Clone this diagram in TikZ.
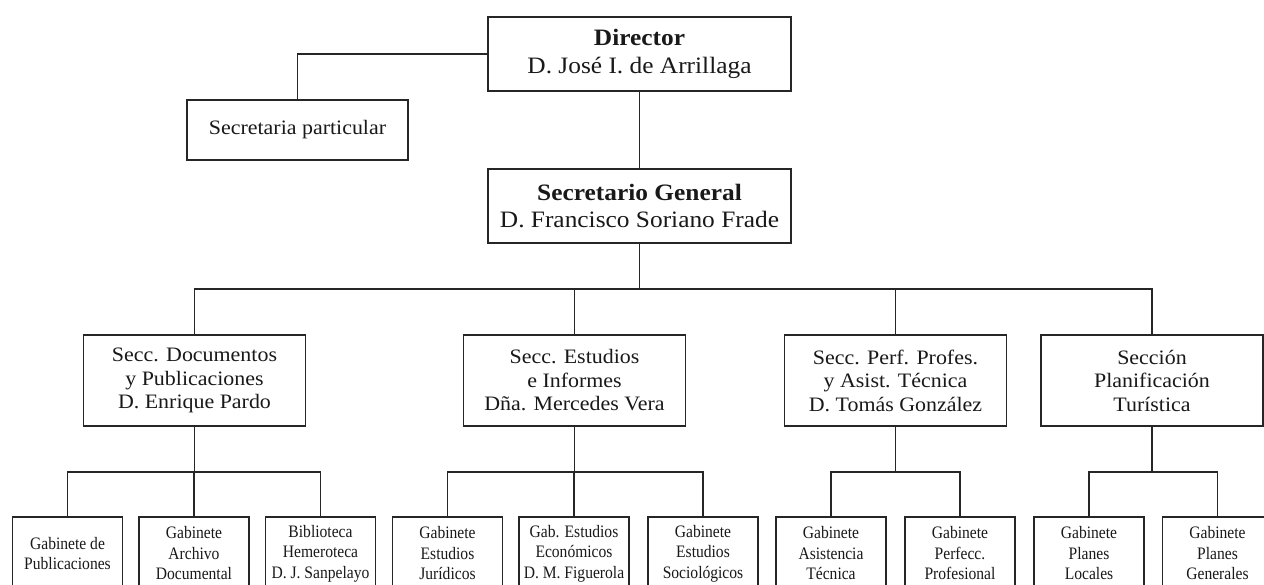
\documentclass[tikz,border=0pt]{standalone}
\usepackage{fontspec}
\newfontfamily\topfont[FakeStretch=1.08]{Liberation Serif}
\newfontfamily\midfont[FakeStretch=1.07]{Liberation Serif}
\newfontfamily\botfont[FakeStretch=0.89]{Liberation Serif}
\begin{document}
\begin{tikzpicture}[x=1pt,y=-1pt,
  line/.style={draw=black!85,line width=1.3pt},
  box/.style={line,rectangle,inner sep=0pt,align=center,text=black!90},
  topbox/.style={box,minimum width=303pt,minimum height=74pt,font=\topfont\fontsize{23.5}{27.5}\selectfont},
  secbox/.style={box,minimum width=221pt,minimum height=60pt,font=\midfont\fontsize{20.5}{23.5}\selectfont},
  midbox/.style={box,minimum width=222pt,minimum height=91pt,font=\midfont\fontsize{20.5}{23.5}\selectfont},
  botbox/.style={box,minimum width=110pt,minimum height=73pt,font=\botfont\fontsize{17.5}{20.5}\selectfont}]
\useasboundingbox (0,0) rectangle (1264,585);
\fill[white] (0,0) rectangle (1264,585);
\clip (0,0) rectangle (1264,585);

% top level
\node[topbox] (dir) at (639.5,54) {\textbf{Director}\\D. José I. de Arrillaga};
\node[secbox] (spart) at (297.5,130) {Secretaria particular};
\node[topbox] (sg) at (639.5,206) {\textbf{Secretario General}\\D. Francisco Soriano Frade};

% sections
\node[midbox] (doc) at (194.5,380.5) {Secc. Documentos\\y Publicaciones\\D. Enrique Pardo};
\node[midbox] (est) at (574.5,380.5) {Secc. Estudios\\e Informes\\Dña. Mercedes Vera};
\node[midbox] (perf) at (895.5,380.5) {Secc. Perf. Profes.\\y Asist. Técnica\\D. Tomás González};
\node[midbox] (plan) at (1152,380.5) {Sección\\Planificación\\Turística};

% cabinets
\node[botbox] (g1) at (67.5,553.5) {Gabinete de\\Publicaciones};
\node[botbox] (g2) at (194,553.5) {Gabinete\\Archivo\\Documental};
\node[botbox] (g3) at (320.5,553.5) {Biblioteca\\Hemeroteca\\D. J. Sanpelayo};
\node[botbox] (g4) at (447.5,553.5) {Gabinete\\Estudios\\Jurídicos};
\node[botbox] (g5) at (574,553.5) {Gab. Estudios\\Económicos\\D. M. Figuerola};
\node[botbox] (g6) at (703,553.5) {Gabinete\\Estudios\\Sociológicos};
\node[botbox] (g7) at (831,553.5) {Gabinete\\Asistencia\\Técnica};
\node[botbox] (g8) at (960,553.5) {Gabinete\\Perfecc.\\Profesional};
\node[botbox] (g9) at (1089,553.5) {Gabinete\\Planes\\Locales};
\node[botbox] (g10) at (1217.5,553.5) {Gabinete\\Planes\\Generales};

% bus coordinates
\coordinate (bus) at (639.5,289);
\coordinate (bdoc) at (194.5,472);
\coordinate (best) at (574.5,472);
\coordinate (bperf) at (895.5,472);
\coordinate (bplan) at (1152,472);

% connectors
\draw[line] (dir.west) -| (spart.north);
\draw[line] (dir.south) -- (sg.north);
\draw[line] (sg.south) -- (bus);
\draw[line] (doc.north) |- (bus);
\draw[line] (bus) -| (plan.north);
\draw[line] (est.north) -- (est.north |- bus);
\draw[line] (perf.north) -- (perf.north |- bus);

\draw[line] (doc.south) -- (bdoc);
\draw[line] (g1.north) |- (bdoc) -| (g3.north);
\draw[line] (g2.north) -- (g2.north |- bdoc);

\draw[line] (est.south) -- (best);
\draw[line] (g4.north) |- (best) -| (g6.north);
\draw[line] (g5.north) -- (g5.north |- best);

\draw[line] (perf.south) -- (bperf);
\draw[line] (g7.north) |- (bperf) -| (g8.north);

\draw[line] (plan.south) -- (bplan);
\draw[line] (g9.north) |- (bplan) -| (g10.north);
\end{tikzpicture}
\end{document}
